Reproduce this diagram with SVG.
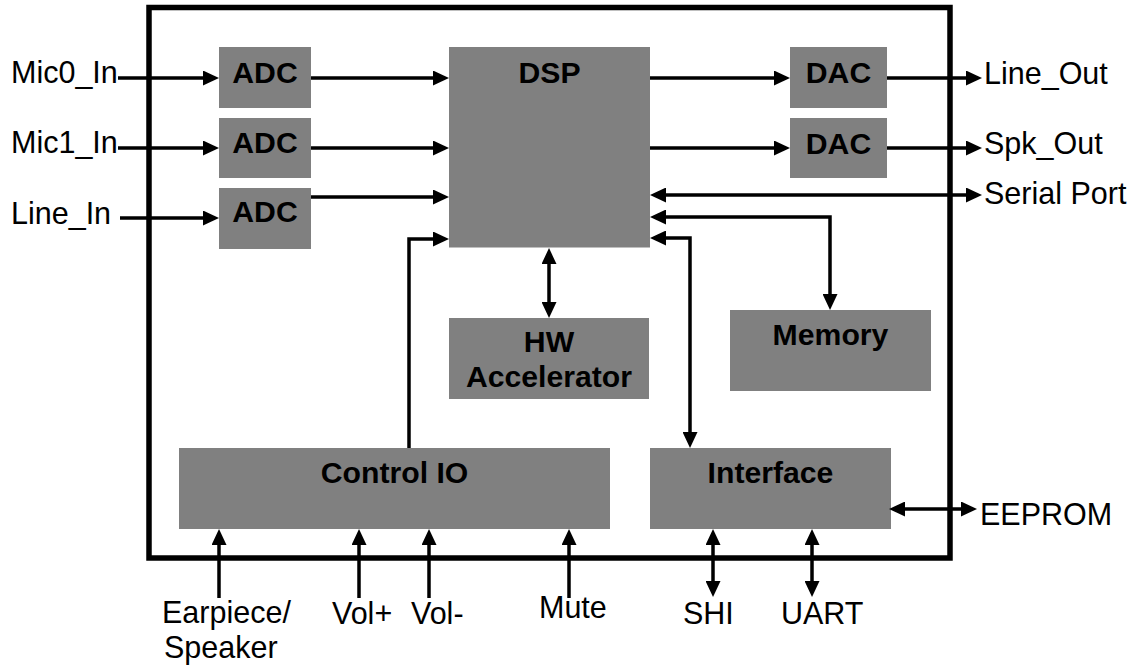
<svg xmlns="http://www.w3.org/2000/svg" width="1131" height="667" viewBox="0 0 1131 667">
  <style>
    .blk { fill: #808080; stroke: none; }
    .name { font-family: "Liberation Sans", Arial, sans-serif; font-size: 30.2px; font-weight: bold; fill: #000; text-anchor: middle; }
    .lbl { font-family: "Liberation Sans", Arial, sans-serif; font-size: 30.5px; fill: #000; }
    .wire { fill: none; stroke: #000; stroke-width: 3.5; }
    .one { marker-end: url(#head); }
    .two { marker-start: url(#head); marker-end: url(#head); }
  </style>
  <defs>
    <marker id="head" markerUnits="userSpaceOnUse" markerWidth="16" markerHeight="15" refX="11" refY="7.5" orient="auto-start-reverse" viewBox="0 0 16 15">
      <path d="M0,0 L16,7.5 L0,15 Z" fill="#000"/>
    </marker>
  </defs>

  <rect width="1131" height="667" fill="#fff"/>

  <!-- chip outline -->
  <rect id="chip" x="149" y="7.5" width="801" height="550.5" fill="none" stroke="#000" stroke-width="5.5"/>

  <g id="adc0"><rect class="blk" x="219" y="47" width="92" height="61"/><text class="name" x="265" y="83.3">ADC</text></g>
  <g id="adc1"><rect class="blk" x="219" y="118" width="92" height="60"/><text class="name" x="265" y="153.3">ADC</text></g>
  <g id="adc2"><rect class="blk" x="219" y="188" width="92" height="61"/><text class="name" x="265" y="222">ADC</text></g>
  <g id="dsp"><rect class="blk" x="449" y="47" width="201" height="200.5"/><text class="name" x="549.5" y="82.7">DSP</text></g>
  <g id="dac0"><rect class="blk" x="790" y="47" width="97" height="61"/><text class="name" x="838.5" y="83.3">DAC</text></g>
  <g id="dac1"><rect class="blk" x="790" y="118" width="97" height="60"/><text class="name" x="838.5" y="153.5">DAC</text></g>
  <g id="hwacc"><rect class="blk" x="449" y="318" width="200" height="81"/><text class="name" x="549" y="352.3">HW</text><text class="name" x="549" y="386.7">Accelerator</text></g>
  <g id="memory"><rect class="blk" x="730" y="310" width="201" height="81"/><text class="name" x="830.5" y="345">Memory</text></g>
  <g id="controlio"><rect class="blk" x="179" y="448" width="431" height="81"/><text class="name" x="394.5" y="483.3">Control IO</text></g>
  <g id="interface"><rect class="blk" x="650" y="448" width="241" height="81"/><text class="name" x="770.5" y="483.3">Interface</text></g>

  <g id="connectors" class="wire">
    <!-- analog inputs into the converters -->
    <path class="one" d="M118,78 H214"/>
    <path class="one" d="M118,148 H214"/>
    <path class="one" d="M120,218 H214"/>
    <!-- converters into the DSP -->
    <path class="one" d="M311,78 H444"/>
    <path class="one" d="M311,148 H444"/>
    <path class="one" d="M311,197 H444"/>
    <path class="one" d="M409,448 V239 H444"/>
    <!-- DSP outputs -->
    <path class="one" d="M650,78 H785"/>
    <path class="one" d="M650,148 H785"/>
    <path class="one" d="M887,78 H977"/>
    <path class="one" d="M887,148 H977"/>
    <path class="two" d="M655,195 H977"/>
    <path class="two" d="M655,217 H830 V305"/>
    <path class="two" d="M655,238 H690 V443"/>
    <path class="two" d="M549,253 V313"/>
    <path class="two" d="M894,509 H972"/>
    <!-- control pins -->
    <path class="one" d="M219,598 V534"/>
    <path class="one" d="M359,598 V534"/>
    <path class="one" d="M429,598 V534"/>
    <path class="one" d="M569,598 V534"/>
    <!-- host ports -->
    <path class="two" d="M713,592 V534"/>
    <path class="two" d="M812,592 V534"/>
  </g>

  <g id="labels">
    <text class="lbl" x="11" y="82.5">Mic0_In</text>
    <text class="lbl" x="11" y="153">Mic1_In</text>
    <text class="lbl" x="11" y="224">Line_In</text>
    <text class="lbl" x="984" y="84">Line_Out</text>
    <text class="lbl" x="984" y="154">Spk_Out</text>
    <text class="lbl" x="984" y="204">Serial Port</text>
    <text class="lbl" x="980" y="525">EEPROM</text>
    <text class="lbl" x="162" y="623">Earpiece/</text>
    <text class="lbl" x="164" y="658">Speaker</text>
    <text class="lbl" x="332" y="624">Vol+</text>
    <text class="lbl" x="411" y="624">Vol-</text>
    <text class="lbl" x="539" y="618">Mute</text>
    <text class="lbl" x="683" y="624">SHI</text>
    <text class="lbl" x="781" y="624">UART</text>
  </g>
</svg>
